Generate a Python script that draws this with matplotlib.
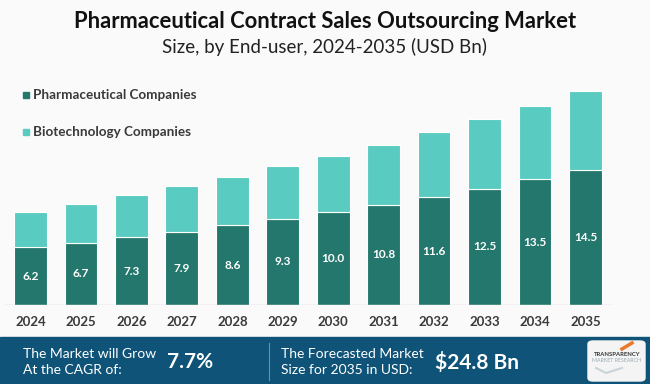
import matplotlib.pyplot as plt
from matplotlib.patches import Rectangle, FancyBboxPatch

# Data (USD Bn)
years = ['2024', '2025', '2026', '2027', '2028', '2029',
         '2030', '2031', '2032', '2033', '2034', '2035']
pharma = [6.2, 6.7, 7.3, 7.9, 8.6, 9.3, 10.0, 10.8, 11.6, 12.5, 13.5, 14.5]
biotech = [3.8, 4.2, 4.5, 4.9, 5.2, 5.6, 6.0, 6.4, 7.0, 7.5, 7.9, 8.5]
cagr_text = '7.7%'
forecast_text = '$24.8 Bn'

DARK = '#23776C'
LIGHT = '#5ACBC1'
BG = '#FAFAFA'
BANNER = '#0F5478'
TXT = '#3A3A3A'

plt.rcParams['font.family'] = ['Lato', 'DejaVu Sans']

W, H = 650, 384
fig = plt.figure(figsize=(6.5, 3.84), dpi=100, facecolor=BG)

# axes: baseline at y=305 px from top, bar centres 30.5 + 50.45*i
px_per_unit = 9.3
step = 50.45
x0 = 30.5
ax = fig.add_axes([0, (H - 305) / H, 1, 225 / H])
ax.set_facecolor(BG)
ax.set_xlim(-x0 / step, (W - x0) / step)
ax.set_ylim(0, 225 / px_per_unit)

xs = list(range(len(years)))
b1 = ax.bar(xs, pharma, width=0.65, color=DARK, edgecolor='white', linewidth=0.8)
ax.bar(xs, biotech, bottom=pharma, width=0.65, color=LIGHT, edgecolor='white', linewidth=0.8)
ax.bar_label(b1, labels=[f'{v:.1f}' for v in pharma], label_type='center',
             color='white', fontsize=8.5, fontweight='bold')

ax.axhline(0, xmin=5 / W, xmax=612 / W, color='#D5D5D5', lw=1)
for s in ax.spines.values():
    s.set_visible(False)
ax.set_yticks([])
ax.set_xticks(xs)
ax.set_xticklabels(years, fontsize=9.5, fontweight='bold', color=TXT)
ax.tick_params(axis='x', length=0, pad=8)


def fy(y):
    return 1 - y / H


def fx(x):
    return x / W


# title
fig.text(0.5, fy(22), 'Pharmaceutical Contract Sales Outsourcing Market',
         ha='center', va='center', fontsize=15.8, fontweight='bold', color='#111111')
fig.text(0.5, fy(47), 'Size, by End-user, 2024-2035 (USD Bn)',
         ha='center', va='center', fontsize=13.5, color='#222222')

# legend
for lab, col, y in [('Pharmaceutical Companies', DARK, 95), ('Biotechnology Companies', LIGHT, 132)]:
    fig.patches.append(Rectangle((fx(22.5), fy(y + 3)), 6 / W, 6 / H,
                                 transform=fig.transFigure, color=col))
    fig.text(fx(33), fy(y), lab, ha='left', va='center', fontsize=9.7,
             fontweight='bold', color=TXT)

# bottom banner
fig.patches.append(Rectangle((0, 0), 1, 47 / H, transform=fig.transFigure,
                             color=BANNER, zorder=0))
fig.add_artist(plt.Line2D([fx(269), fx(269)], [fy(380), fy(343)],
                          transform=fig.transFigure, color='#6C8FA8', lw=0.8))
fig.text(fx(23), fy(362), 'The Market will Grow\nAt the CAGR of:', ha='left', va='center',
         fontsize=10, color='white', linespacing=1.4)
fig.text(fx(167), fy(362), cagr_text, ha='left', va='center', fontsize=15,
         fontweight='bold', color='white')
fig.text(fx(281), fy(362), 'The Forecasted Market\nSize for 2035 in USD:', ha='left', va='center',
         fontsize=10, color='white', linespacing=1.4)
fig.text(fx(435), fy(362), forecast_text, ha='left', va='center', fontsize=15,
         fontweight='bold', color='white')

# logo
fig.patches.append(FancyBboxPatch((fx(588), fy(381)), 57 / W, 40 / H,
                                  boxstyle='round,pad=0,rounding_size=0.008',
                                  transform=fig.transFigure, color='#F4F4F4'))
fig.add_artist(plt.Line2D([fx(596), fx(606), fx(622)], [fy(368), fy(373), fy(368)],
                          transform=fig.transFigure, color='#C9D3D8', lw=1.5))
fig.add_artist(plt.Line2D([fx(622), fx(632)], [fy(349), fy(343)],
                          transform=fig.transFigure, color='#E8782A', lw=2.5))
fig.text(fx(617), fy(354), 'TRANSPARENCY', ha='center', va='center', fontsize=4.2,
         fontweight='bold', color='#333333')
fig.text(fx(617), fy(361), 'MARKET RESEARCH', ha='center', va='center', fontsize=3.8,
         color='#9AA8B0')

fig.savefig('out.png', dpi=100, facecolor=BG)
